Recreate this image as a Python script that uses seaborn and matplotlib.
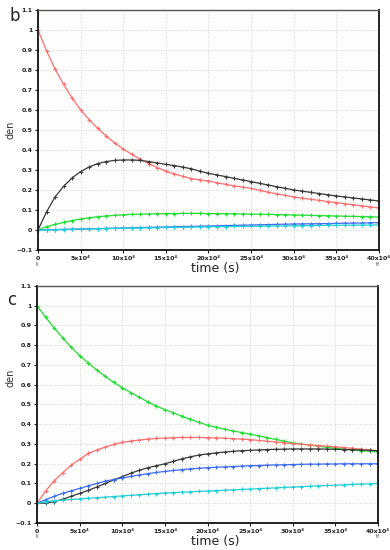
import matplotlib
matplotlib.use("Agg")
import matplotlib.pyplot as plt
import seaborn as sns

# time in units of 10^4 s
time_pts = list(range(0, 41))

# panel b
b_red = [1.0, 0.895, 0.805, 0.728, 0.66, 0.60, 0.552, 0.508, 0.47, 0.435,
         0.405, 0.378, 0.353, 0.332, 0.312, 0.294, 0.28, 0.268, 0.257, 0.25,
         0.245, 0.236, 0.228, 0.22, 0.214, 0.208, 0.198, 0.189, 0.181, 0.173,
         0.165, 0.159, 0.153, 0.148, 0.142, 0.137, 0.131, 0.126, 0.12, 0.115, 0.11]
b_black = [0.0, 0.09, 0.165, 0.218, 0.26, 0.292, 0.315, 0.332, 0.342, 0.348,
           0.35, 0.35, 0.348, 0.342, 0.335, 0.328, 0.322, 0.314, 0.306, 0.294,
           0.283, 0.275, 0.267, 0.258, 0.25, 0.242, 0.233, 0.225, 0.216, 0.208,
           0.2, 0.194, 0.188, 0.182, 0.176, 0.17, 0.165, 0.16, 0.155, 0.15, 0.145]
b_green = [0.0, 0.017, 0.028, 0.038, 0.047, 0.055, 0.061, 0.066, 0.07, 0.073,
           0.076, 0.078, 0.079, 0.08, 0.081, 0.082, 0.082, 0.083, 0.083, 0.083,
           0.082, 0.082, 0.081, 0.081, 0.08, 0.079, 0.079, 0.078, 0.077, 0.076,
           0.075, 0.074, 0.073, 0.072, 0.071, 0.07, 0.069, 0.068, 0.067, 0.066, 0.065]
b_blue = [0.0, 0.001, 0.002, 0.003, 0.004, 0.005, 0.006, 0.007, 0.008, 0.009,
          0.01, 0.011, 0.012, 0.013, 0.014, 0.015, 0.016, 0.017, 0.018, 0.019,
          0.02, 0.021, 0.022, 0.023, 0.024, 0.025, 0.026, 0.027, 0.028, 0.029,
          0.03, 0.0305, 0.031, 0.0315, 0.032, 0.033, 0.034, 0.0345, 0.035, 0.036, 0.037]
b_cyan = [0.0, 0.0, 0.001, 0.002, 0.003, 0.004, 0.005, 0.006, 0.007, 0.008,
          0.009, 0.0097, 0.0104, 0.011, 0.0117, 0.0124, 0.013, 0.0137, 0.0144, 0.015,
          0.016, 0.0165, 0.017, 0.0175, 0.018, 0.0185, 0.019, 0.0195, 0.02, 0.0205,
          0.021, 0.0215, 0.022, 0.0225, 0.023, 0.0235, 0.024, 0.0242, 0.0245, 0.0248, 0.025]

# panel c
c_green = [1.0, 0.942, 0.888, 0.838, 0.79, 0.748, 0.71, 0.675, 0.642, 0.612,
           0.585, 0.56, 0.537, 0.513, 0.492, 0.474, 0.458, 0.44, 0.425, 0.41,
           0.395, 0.385, 0.375, 0.366, 0.358, 0.35, 0.341, 0.332, 0.323, 0.314,
           0.306, 0.3, 0.294, 0.289, 0.283, 0.278, 0.274, 0.27, 0.266, 0.263, 0.26]
c_red = [0.0, 0.062, 0.113, 0.154, 0.193, 0.222, 0.252, 0.269, 0.285, 0.298,
         0.308, 0.315, 0.32, 0.325, 0.328, 0.33, 0.332, 0.333, 0.333, 0.333,
         0.332, 0.331, 0.329, 0.327, 0.325, 0.322, 0.318, 0.314, 0.31, 0.306,
         0.302, 0.299, 0.295, 0.292, 0.289, 0.286, 0.282, 0.278, 0.274, 0.27, 0.266]
c_black = [0.0, 0.001, 0.008, 0.02, 0.035, 0.05, 0.065, 0.082, 0.1, 0.118,
           0.135, 0.152, 0.167, 0.18, 0.19, 0.2, 0.212, 0.225, 0.235, 0.244,
           0.25, 0.255, 0.259, 0.263, 0.266, 0.268, 0.27, 0.272, 0.273, 0.274,
           0.275, 0.275, 0.275, 0.275, 0.274, 0.273, 0.272, 0.271, 0.27, 0.268, 0.266]
c_blue = [0.0, 0.018, 0.035, 0.05, 0.063, 0.075, 0.088, 0.1, 0.112, 0.12,
          0.128, 0.136, 0.143, 0.15, 0.156, 0.161, 0.166, 0.17, 0.174, 0.177,
          0.18, 0.182, 0.184, 0.186, 0.188, 0.19, 0.191, 0.193, 0.194, 0.195,
          0.196, 0.197, 0.198, 0.198, 0.199, 0.199, 0.2, 0.2, 0.2, 0.2, 0.2]
c_cyan = [0.0, 0.008, 0.012, 0.016, 0.019, 0.022, 0.025, 0.028, 0.031, 0.034,
          0.037, 0.04, 0.043, 0.046, 0.049, 0.052, 0.054, 0.056, 0.058, 0.06,
          0.062, 0.064, 0.066, 0.068, 0.07, 0.072, 0.074, 0.076, 0.078, 0.08,
          0.082, 0.084, 0.086, 0.088, 0.09, 0.091, 0.093, 0.095, 0.097, 0.098, 0.1]

x_ticks = [0, 5, 10, 15, 20, 25, 30, 35, 40]
x_ticklabels = ["0", "5x10⁴", "10x10⁴", "15x10⁴", "20x10⁴", "25x10⁴",
                "30x10⁴", "35x10⁴", "40x10⁴"]
y_ticks = [-0.1, 0, 0.1, 0.2, 0.3, 0.4, 0.5, 0.6, 0.7, 0.8, 0.9, 1.0, 1.1]
y_ticklabels = ["−0.1", "0", "0.1", "0.2", "0.3", "0.4", "0.5", "0.6",
                "0.7", "0.8", "0.9", "1", "1.1"]

RED = "#ff6f6f"
BLACK = "#3a3a3a"
GREEN = "#22dd33"
BLUE = "#3f6df0"
CYAN = "#22cfd6"

sns.set_theme(style="white")
plt.rcParams['font.family'] = ['DejaVu Sans']

fig = plt.figure(figsize=(3.9, 5.5), dpi=100)
ax_b = fig.add_axes([0.0974, 0.5455, 0.8744, 0.4364])
ax_c = fig.add_axes([0.0949, 0.0491, 0.8744, 0.4309])


def draw_panel(ax, series):
    for vals, col in series:
        sns.lineplot(x=time_pts, y=vals, color=col, ax=ax, linewidth=0.9,
                     marker="+", markersize=3.5, markeredgewidth=0.8,
                     markeredgecolor=col)
    ax.set_xlim(0, 40)
    ax.set_ylim(-0.1, 1.1)
    ax.set_xticks(x_ticks)
    ax.set_xticklabels(x_ticklabels, fontsize=4.5, fontweight="bold")
    ax.set_yticks(y_ticks)
    ax.set_yticklabels(y_ticklabels, fontsize=4.5, fontweight="bold")
    ax.tick_params(axis="both", length=2, width=0.8, pad=2, colors="#222222",
                   bottom=True, left=True)
    ax.grid(True, linestyle=(0, (1, 2)), color="#c8c8c8", linewidth=0.6)
    for side in ["left", "bottom", "right"]:
        ax.spines[side].set_color("#111111")
        ax.spines[side].set_linewidth(1.3)
    ax.spines["top"].set_color("#555555")
    ax.spines["top"].set_linestyle((0, (2, 1)))
    ax.spines["top"].set_linewidth(1.0)
    ax.set_facecolor("#fdfdfc")
    ax.set_xlabel("")
    ax.set_ylabel("")


draw_panel(ax_b, [(b_red, RED), (b_black, BLACK), (b_green, GREEN),
                  (b_blue, BLUE), (b_cyan, CYAN)])
draw_panel(ax_c, [(c_green, GREEN), (c_red, RED), (c_black, BLACK),
                  (c_blue, BLUE), (c_cyan, CYAN)])

# panel letters and labels
fig.text(15 / 390, 1 - 16 / 550, "b", fontsize=12, ha="center", va="center")
fig.text(12 / 390, 1 - 300 / 550, "c", fontsize=12, ha="center", va="center")
for y_den in [130, 378]:
    fig.text(11 / 390, 1 - y_den / 550, "den", fontsize=7, rotation=90,
             ha="center", va="center", color="#333333")
for y_t, y_tt in [(269, 265), (541, 537)]:
    fig.text(215 / 390, 1 - y_t / 550, "time (s)", fontsize=9,
             ha="center", va="center", color="#222222")
    fig.text(38 / 390, 1 - y_tt / 550, "ti", fontsize=4, ha="center",
             va="center", color="#555555")
    fig.text(378 / 390, 1 - y_tt / 550, "tf", fontsize=4, ha="center",
             va="center", color="#555555")

fig.savefig("out.png", dpi=100)
